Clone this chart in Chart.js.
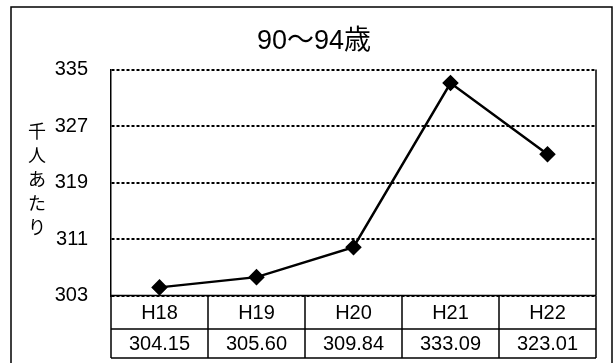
<!DOCTYPE html>
<html>
<head>
<meta charset="utf-8">
<script src="https://cdn.jsdelivr.net/npm/chart.js@4"></script>
<style>
  html, body { margin: 0; padding: 0; background: #fff; }
</style>
</head>
<body>
<canvas id="ageChart" width="616" height="363"></canvas>
<script>
const years = ["H18", "H19", "H20", "H21", "H22"];
const perThousand = [304.15, 305.60, 309.84, 333.09, 323.01];
const valueLabels = ["304.15", "305.60", "309.84", "333.09", "323.01"];
const chartTitle = "90～94歳";
const yTitle = ["千", "人", "あ", "た", "り"];

const FONT = '"Liberation Sans", Arial, "Noto Sans CJK JP", sans-serif';

// frame, title, y label and the data table under the plot
const decorations = {
  id: "decorations",
  beforeDraw(chart) {
    const ctx = chart.ctx;
    ctx.save();
    ctx.fillStyle = "#fff";
    ctx.fillRect(0, 0, chart.width, chart.height);
    ctx.strokeStyle = "#000";
    ctx.lineWidth = 1.5;
    ctx.strokeRect(11, 7, 601, 370);
    ctx.restore();
  },
  afterDraw(chart) {
    const ctx = chart.ctx;
    const area = chart.chartArea;
    const x = chart.scales.x;
    ctx.save();
    ctx.fillStyle = "#000";
    ctx.textAlign = "center";
    ctx.textBaseline = "middle";

    ctx.font = "27px " + FONT;
    ctx.fillText(chartTitle, 314, 42);

    ctx.font = "18px " + FONT;
    yTitle.forEach((ch, i) => ctx.fillText(ch, 37, 133 + i * 24));

    // plot frame on the right
    ctx.strokeStyle = "#000";
    ctx.lineWidth = 1.5;
    ctx.beginPath();
    ctx.moveTo(area.right, area.top);
    ctx.lineTo(area.right, area.bottom);
    ctx.stroke();

    // data table
    const colW = x.getPixelForValue(1) - x.getPixelForValue(0);
    const rows = [area.bottom, area.bottom + 33.5, area.bottom + 62.5];
    ctx.beginPath();
    rows.forEach(r => {
      ctx.moveTo(area.left, r);
      ctx.lineTo(area.right, r);
    });
    for (let i = 0; i <= years.length; i++) {
      const px = x.getPixelForValue(0) - colW / 2 + i * colW;
      ctx.moveTo(px, rows[0]);
      ctx.lineTo(px, rows[2]);
    }
    ctx.stroke();

    ctx.font = "20px " + FONT;
    years.forEach((y, i) => {
      const cx = x.getPixelForValue(i);
      ctx.fillText(y, cx, (rows[0] + rows[1]) / 2 + 1);
      ctx.fillText(valueLabels[i], cx, (rows[1] + rows[2]) / 2 + 1);
    });
    ctx.restore();
  }
};

new Chart(document.getElementById("ageChart"), {
  type: "line",
  data: {
    labels: years,
    datasets: [{
      data: perThousand,
      borderColor: "#000",
      borderWidth: 2.5,
      backgroundColor: "#000",
      pointStyle: "rectRot",
      pointRadius: 6.5,
      pointHoverRadius: 6.5,
      tension: 0
    }]
  },
  options: {
    responsive: false,
    animation: false,
    layout: { padding: { top: 69.5, right: 20, bottom: 67.5, left: 0 } },
    plugins: {
      legend: { display: false },
      title: { display: false },
      tooltip: { enabled: false }
    },
    scales: {
      x: {
        display: false,
        offset: true
      },
      y: {
        min: 303,
        max: 335,
        ticks: {
          stepSize: 8,
          padding: 23,
          color: "#000",
          font: { family: FONT, size: 20 }
        },
        grid: {
          color: "#000",
          lineWidth: 2,
          drawTicks: false
        },
        border: {
          display: true,
          color: "#000",
          width: 1.5,
          dash: [3, 2]
        },
        afterFit(scale) { scale.width = 111; }
      }
    }
  },
  plugins: [decorations]
});
</script>
</body>
</html>
